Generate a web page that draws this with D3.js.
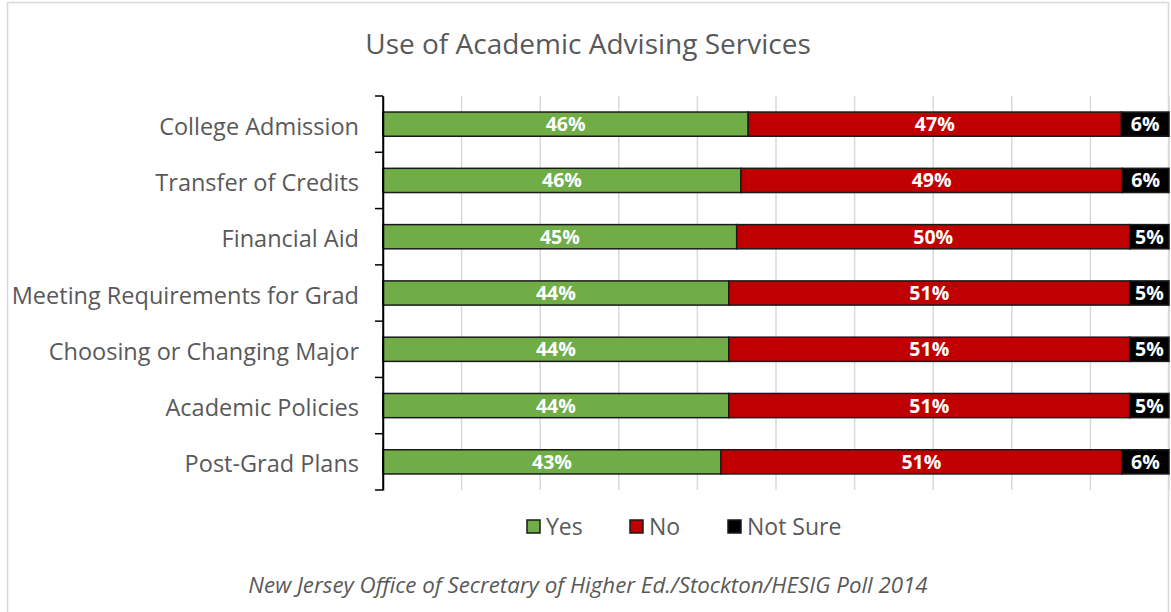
<!DOCTYPE html>
<html>
<head>
<meta charset="utf-8">
<script src="https://cdn.jsdelivr.net/npm/d3@7"></script>
<style>
  html, body { margin: 0; padding: 0; background: #fff; }
  svg { display: block; }
</style>
</head>
<body>
<svg id="chart" width="1171" height="612"></svg>
<script>
// Survey categories and response shares (percent)
const categories = [
  "College Admission",
  "Transfer of Credits",
  "Financial Aid",
  "Meeting Requirements for Grad",
  "Choosing or Changing Major",
  "Academic Policies",
  "Post-Grad Plans"
];
const yes      = [46, 46, 45, 44, 44, 44, 43];
const no       = [47, 49, 50, 51, 51, 51, 51];
const notSure  = [6, 6, 5, 5, 5, 5, 6];
const seriesNames = ["Yes", "No", "Not Sure"];
const seriesColors = ["#70ad47", "#c00000", "#000000"];
const gridTicks = [0, 0.1, 0.2, 0.3, 0.4, 0.5, 0.6, 0.7, 0.8, 0.9, 1];

const title = "Use of Academic Advising Services";
const source = "New Jersey Office of Secretary of Higher Ed./Stockton/HESIG Poll 2014";

const rows = categories.map((c, i) => ({
  category: c, "Yes": yes[i], "No": no[i], "Not Sure": notSure[i]
}));

const svg = d3.select("#chart");
const W = 1171, H = 612;
const margin = { left: 383, right: 2, top: 96, bottom: 122 };
const font = "'Open Sans', 'Noto Sans', sans-serif";

// Chart frame
svg.append("rect")
  .attr("x", 7.5).attr("y", 2.5)
  .attr("width", 1161).attr("height", 640)
  .attr("fill", "#fff").attr("stroke", "#d9d9d9").attr("stroke-width", 1.5);

const x = d3.scaleLinear().domain([0, 1]).range([margin.left, W - margin.right]);
const y = d3.scaleBand().domain(categories)
  .range([margin.top, H - margin.bottom]).paddingInner(0.57).paddingOuter(0.285);

// Vertical gridlines
svg.append("g").selectAll("line").data(gridTicks.slice(1)).join("line")
  .attr("x1", d => x(d)).attr("x2", d => x(d))
  .attr("y1", margin.top).attr("y2", H - margin.bottom)
  .attr("stroke", "#d9d9d9").attr("stroke-width", 1.5);

// Stacked 100% bars
const stack = d3.stack().keys(seriesNames).offset(d3.stackOffsetExpand);
const layers = stack(rows);

const layerG = svg.append("g").selectAll("g").data(layers).join("g")
  .attr("fill", (d, i) => seriesColors[i]);

layerG.selectAll("rect").data(d => d).join("rect")
  .attr("x", d => x(d[0]))
  .attr("y", d => y(d.data.category))
  .attr("width", d => x(d[1]) - x(d[0]))
  .attr("height", y.bandwidth())
  .attr("stroke", "#1a1a1a").attr("stroke-width", 1.5);

// Value labels
layers.forEach(layer => {
  svg.append("g").selectAll("text").data(layer).join("text")
    .attr("x", d => (x(d[0]) + x(d[1])) / 2)
    .attr("y", d => y(d.data.category) + y.bandwidth() / 2)
    .attr("dy", "0.36em")
    .attr("text-anchor", "middle")
    .attr("fill", "#fff")
    .attr("font-family", font)
    .attr("font-weight", "bold")
    .attr("font-size", 19.5)
    .text(d => d.data[layer.key] + "%");
});

// Left category axis
const yAxis = d3.axisLeft(y).tickSize(0).tickPadding(24);
const axisG = svg.append("g").attr("transform", `translate(${margin.left},0)`).call(yAxis);
axisG.select(".domain").attr("stroke", "#000").attr("stroke-width", 1.5);
axisG.selectAll("text")
  .attr("dy", "0.45em")
  .attr("font-family", font).attr("font-size", 23.5).attr("fill", "#595959");

// Tick marks between categories
const step = y.step();
const boundaries = d3.range(categories.length + 1).map(i => margin.top + i * step);
svg.append("g").selectAll("line").data(boundaries).join("line")
  .attr("x1", margin.left - 8).attr("x2", margin.left)
  .attr("y1", d => d).attr("y2", d => d)
  .attr("stroke", "#000").attr("stroke-width", 1.5);
svg.append("line")
  .attr("x1", margin.left).attr("x2", margin.left)
  .attr("y1", margin.top).attr("y2", H - margin.bottom)
  .attr("stroke", "#000").attr("stroke-width", 1.5);

// Title
svg.append("text")
  .attr("x", 588).attr("y", 54)
  .attr("text-anchor", "middle")
  .attr("font-family", font).attr("font-size", 28).attr("fill", "#595959")
  .text(title);

// Legend
const legendX = [527, 630, 728];
const legend = svg.append("g").selectAll("g").data(seriesNames).join("g")
  .attr("transform", (d, i) => `translate(${legendX[i]},520)`);
legend.append("rect")
  .attr("width", 13).attr("height", 13)
  .attr("fill", (d, i) => seriesColors[i])
  .attr("stroke", "#1a1a1a").attr("stroke-width", 1.5);
legend.append("text")
  .attr("x", 19).attr("y", 7).attr("dy", "0.36em")
  .attr("font-family", font).attr("font-size", 23).attr("fill", "#595959")
  .text(d => d);

// Source note
svg.append("text")
  .attr("x", 588).attr("y", 593)
  .attr("text-anchor", "middle")
  .attr("font-family", font).attr("font-style", "italic")
  .attr("font-size", 22.3).attr("fill", "#595959")
  .text(source);
</script>
</body>
</html>
